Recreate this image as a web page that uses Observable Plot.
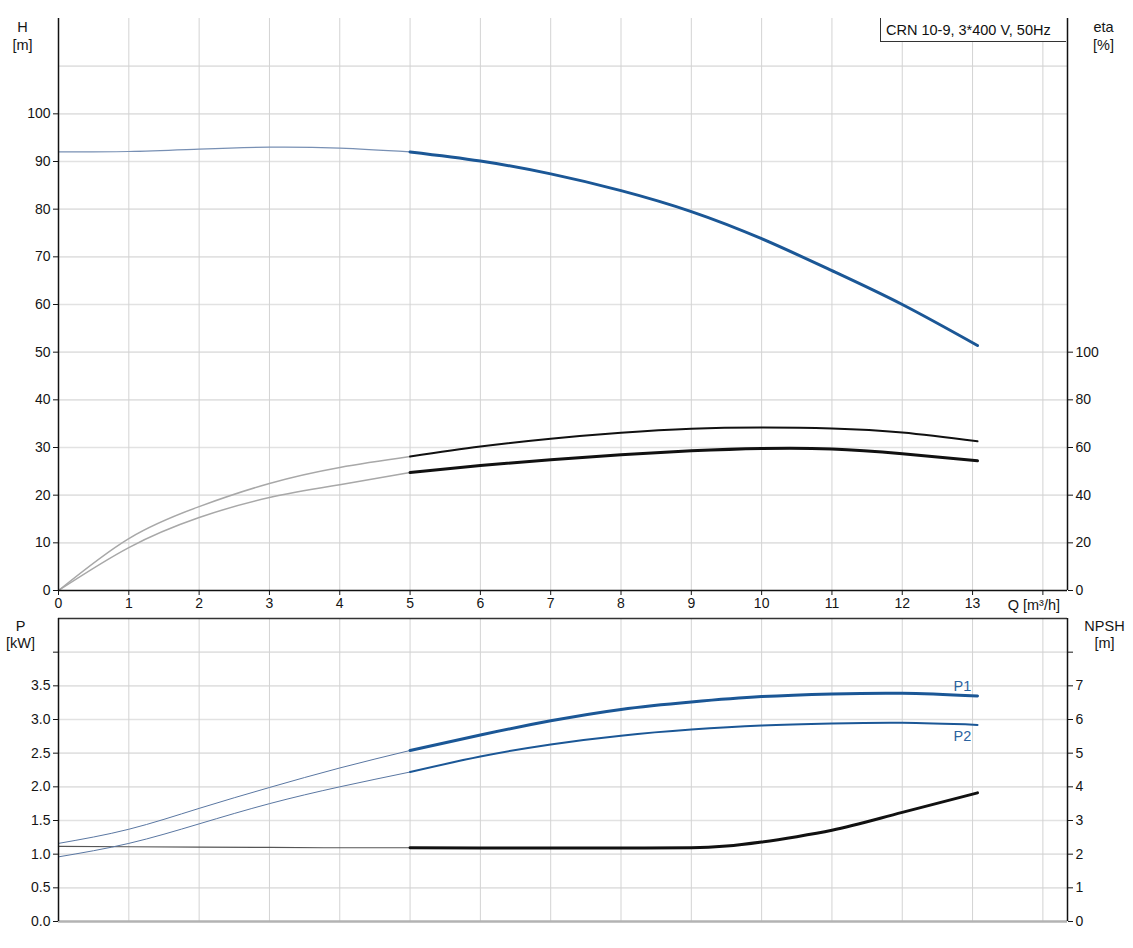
<!DOCTYPE html>
<html>
<head>
<meta charset="utf-8">
<script src="https://cdn.jsdelivr.net/npm/d3@7"></script>
<script src="https://cdn.jsdelivr.net/npm/@observablehq/plot@0.6"></script>
<style>
  body { margin: 0; background: #fff; font-family: "Liberation Sans", Arial, sans-serif; }
  #wrap { position: relative; width: 1133px; height: 948px; background: #fff; }
  #wrap svg { display: block; overflow: visible; }
  #legend { position: absolute; left: 880px; top: 18px; width: 186px; height: 24px;
    border-left: 1px solid #333; border-bottom: 1px solid #333; background: #fff;
    font-size: 14.5px; line-height: 24px; padding-left: 5px; box-sizing: border-box; color: #111; }
</style>
</head>
<body>
<div id="wrap">
  <div id="top"></div>
  <div id="bottom"></div>
  <div id="legend">CRN 10-9, 3*400 V, 50Hz</div>
</div>
<script>
// ---- data ----
const Q      = [0, 1, 2, 3, 4, 5, 6, 7, 8, 9, 10, 11, 12, 13.07];
const H      = [92.0, 92.1, 92.6, 93.0, 92.8, 92.0, 90.1, 87.4, 83.9, 79.5, 73.8, 67.1, 60.0, 51.4];
const eta1   = [0, 21.8, 35.2, 44.9, 51.6, 56.2, 60.4, 63.7, 66.2, 67.9, 68.4, 68.0, 66.3, 62.6];
const eta2   = [0, 18.0, 30.6, 39.0, 44.4, 49.5, 52.4, 54.9, 57.0, 58.6, 59.6, 59.4, 57.4, 54.4];
const P1     = [1.16, 1.37, 1.68, 1.99, 2.28, 2.54, 2.77, 2.98, 3.15, 3.26, 3.34, 3.38, 3.39, 3.35];
const P2     = [0.96, 1.16, 1.45, 1.75, 2.00, 2.22, 2.45, 2.63, 2.76, 2.85, 2.91, 2.94, 2.95, 2.92];
const npshQ  = [0, 1, 2, 3, 4, 5, 6, 7, 8, 9, 9.5, 10, 10.5, 11, 12, 13.07];
const NPSH   = [2.23, 2.22, 2.21, 2.20, 2.19, 2.19, 2.18, 2.18, 2.18, 2.19, 2.24, 2.36, 2.52, 2.71, 3.24, 3.82];

const qTicks    = [0, 1, 2, 3, 4, 5, 6, 7, 8, 9, 10, 11, 12, 13, 14];
const hTicks    = [0, 10, 20, 30, 40, 50, 60, 70, 80, 90, 100];
const hGrid     = [10, 20, 30, 40, 50, 60, 70, 80, 90, 100, 110];
const etaTicks  = [0, 20, 40, 60, 80, 100];
const pTicks    = [0, 0.5, 1.0, 1.5, 2.0, 2.5, 3.0, 3.5, 4.0];
const pLabels   = ["0.0", "0.5", "1.0", "1.5", "2.0", "2.5", "3.0", "3.5", ""];
const npshTicks = [0, 1, 2, 3, 4, 5, 6, 7, 8];
const npshLabels= ["0", "1", "2", "3", "4", "5", "6", "7", ""];

const qMax = 14.35, hMax = 120, pMax = 4.5;
const split = 5;

const rows = Q.map((q, i) => ({q, h: H[i], e1: eta1[i], e2: eta2[i], p1: P1[i], p2: P2[i]}));
const nrows = npshQ.map((q, i) => ({q, n: NPSH[i]}));
const thin = rows.filter(d => d.q <= split), thick = rows.filter(d => d.q >= split);
const nthin = nrows.filter(d => d.q <= split), nthick = nrows.filter(d => d.q >= split);

const font = "Liberation Sans, Arial, sans-serif";
const blue = "#1b5796", blueThin = "#7890b4";
const gridH = "#e2e2e2", gridV = "#d3d3d3", ink = "#151515";
const fs = "14px";

// ---- top chart: H and eta ----
const topPlot = Plot.plot({
  width: 1133, height: 612,
  marginLeft: 58, marginRight: 66, marginTop: 18, marginBottom: 22,
  x: {domain: [0, qMax]},
  y: {domain: [0, hMax]},
  style: {fontFamily: font, fontSize: fs, color: ink, background: "white", overflow: "visible"},
  marks: [
    Plot.ruleY(hGrid, {stroke: gridH, strokeWidth: 1.6}),
    Plot.ruleX(qTicks.filter(d => d > 0), {stroke: gridV, strokeWidth: 1}),
    // eta curves (eta % = 2 * H units on the shared vertical scale)
    Plot.line(thin, {x: "q", y: d => d.e1 / 2, curve: "natural", stroke: "#a8a8a8", strokeWidth: 1.5}),
    Plot.line(thin, {x: "q", y: d => d.e2 / 2, curve: "natural", stroke: "#a8a8a8", strokeWidth: 1.5}),
    Plot.line(thick, {x: "q", y: d => d.e1 / 2, curve: "natural", stroke: "#111", strokeWidth: 2}),
    Plot.line(thick, {x: "q", y: d => d.e2 / 2, curve: "natural", stroke: "#111", strokeWidth: 3}),
    // H curve
    Plot.line(thin, {x: "q", y: "h", curve: "natural", stroke: blueThin, strokeWidth: 1.2}),
    Plot.line(thick, {x: "q", y: "h", curve: "natural", stroke: blue, strokeWidth: 3}),
    // axis lines
    Plot.ruleY([0], {stroke: "#111", strokeWidth: 1.5}),
    Plot.ruleX([0], {stroke: "#111", strokeWidth: 1.5}),
    Plot.ruleX([qMax], {stroke: "#111", strokeWidth: 1.5}),
    Plot.axisX({ticks: qTicks, tickFormat: d => d === 14 ? "" : String(d), tickSize: 5, tickPadding: 3, label: null}),
    Plot.axisY({ticks: hTicks, tickSize: 5, tickPadding: 3, label: null}),
    Plot.axisY({anchor: "right", ticks: etaTicks.map(d => d / 2), tickFormat: d => String(d * 2), tickSize: 5, tickPadding: 3, label: null}),
    Plot.text(["Q [m³/h]"], {x: 14, y: 0, text: d => d, dy: 15, dx: -9, fontSize: 14.5, fill: ink}),
    Plot.text(["H\n[m]"], {frameAnchor: "top-left", text: d => d, dx: -36, dy: 1, lineAnchor: "top", textAnchor: "middle", lineHeight: 1.25, fontSize: 14.5, fill: ink}),
    Plot.text(["eta\n[%]"], {frameAnchor: "top-right", text: d => d, dx: 36, dy: 1, lineAnchor: "top", textAnchor: "middle", lineHeight: 1.25, fontSize: 14.5, fill: ink})
  ]
});
document.getElementById("top").append(topPlot);

// ---- bottom chart: P1, P2 and NPSH ----
const last = rows[rows.length - 1];
const botPlot = Plot.plot({
  width: 1133, height: 336,
  marginLeft: 58, marginRight: 66, marginTop: 6, marginBottom: 27,
  x: {domain: [0, qMax], axis: null},
  y: {domain: [0, pMax]},
  style: {fontFamily: font, fontSize: fs, color: ink, background: "white", overflow: "visible"},
  marks: [
    Plot.ruleY(pTicks.filter(d => d > 0), {stroke: gridH, strokeWidth: 1.6}),
    Plot.ruleX(qTicks.filter(d => d > 0), {stroke: gridV, strokeWidth: 1}),
    // NPSH (NPSH m = 2 * P units on the shared vertical scale)
    Plot.line(nthin, {x: "q", y: d => d.n / 2, curve: "monotone-x", stroke: "#555", strokeWidth: 1.2}),
    Plot.line(nthick, {x: "q", y: d => d.n / 2, curve: "monotone-x", stroke: "#111", strokeWidth: 3}),
    // P1 / P2
    Plot.line(thin, {x: "q", y: "p1", curve: "natural", stroke: "#5a77a2", strokeWidth: 1}),
    Plot.line(thin, {x: "q", y: "p2", curve: "natural", stroke: "#5a77a2", strokeWidth: 1}),
    Plot.line(thick, {x: "q", y: "p1", curve: "natural", stroke: blue, strokeWidth: 3}),
    Plot.line(thick, {x: "q", y: "p2", curve: "natural", stroke: blue, strokeWidth: 2}),
    Plot.text([last], {x: "q", y: "p1", text: () => "P1", dx: -15, dy: -10, fontSize: 14.5, fill: "#2a63a0"}),
    Plot.text([last], {x: "q", y: "p2", text: () => "P2", dx: -15, dy: 11, fontSize: 14.5, fill: "#2a63a0"}),
    // frame lines
    Plot.ruleY([pMax], {stroke: "#333", strokeWidth: 1.5}),
    Plot.ruleY([0], {stroke: "#b3b3b3", strokeWidth: 2.5}),
    Plot.ruleX([0], {stroke: "#111", strokeWidth: 1.5}),
    Plot.ruleX([qMax], {stroke: "#111", strokeWidth: 1.5}),
    Plot.axisY({ticks: pTicks, tickFormat: d => pLabels[pTicks.indexOf(d)], tickSize: 5, tickPadding: 3, label: null}),
    Plot.axisY({anchor: "right", ticks: npshTicks.map(d => d / 2), tickFormat: d => npshLabels[npshTicks.indexOf(d * 2)], tickSize: 5, tickPadding: 3, label: null}),
    Plot.text(["P\n[kW]"], {frameAnchor: "top-left", text: d => d, dx: -38, dy: 1, lineAnchor: "top", textAnchor: "middle", lineHeight: 1.15, fontSize: 14.5, fill: ink}),
    Plot.text(["NPSH\n[m]"], {frameAnchor: "top-right", text: d => d, dx: 37, dy: 1, lineAnchor: "top", textAnchor: "middle", lineHeight: 1.15, fontSize: 14.5, fill: ink})
  ]
});
document.getElementById("bottom").append(botPlot);
</script>
</body>
</html>
